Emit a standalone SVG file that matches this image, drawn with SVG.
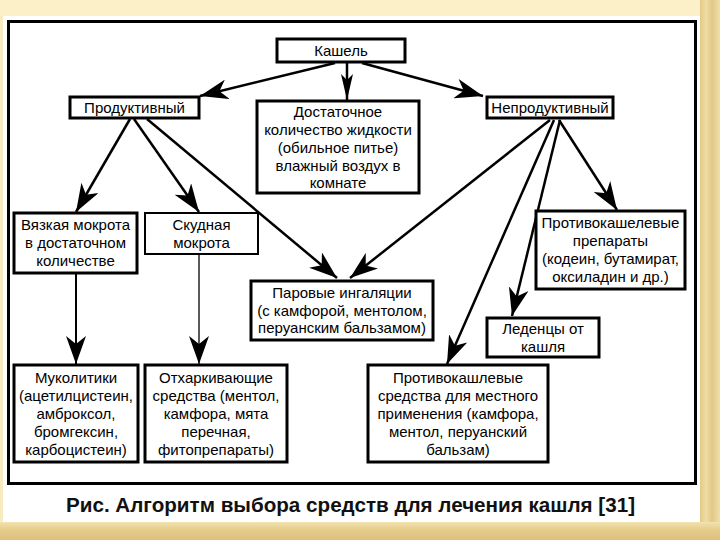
<svg xmlns="http://www.w3.org/2000/svg" width="720" height="540" viewBox="0 0 720 540">
<defs>
<linearGradient id="wood" x1="0" y1="0" x2="1" y2="0">
<stop offset="0" stop-color="#e3c987"/>
<stop offset="0.3" stop-color="#efdca5"/>
<stop offset="0.6" stop-color="#e2c888"/>
<stop offset="1" stop-color="#f0dfab"/>
</linearGradient>
<linearGradient id="woodb" x1="0" y1="0" x2="0" y2="1">
<stop offset="0" stop-color="#f3e3b0"/>
<stop offset="0.4" stop-color="#e6cd8e"/>
<stop offset="1" stop-color="#dcc07c"/>
</linearGradient>
<marker id="ah" viewBox="0 0 28 20" refX="28" refY="10" markerWidth="28" markerHeight="20" markerUnits="userSpaceOnUse" orient="auto">
<path d="M0,0 L28,10 L0,20 L8,10 Z" fill="#000"/>
</marker>
<marker id="ahn" viewBox="0 0 26 12" refX="26" refY="6" markerWidth="26" markerHeight="12" markerUnits="userSpaceOnUse" orient="auto">
<path d="M0,0 L26,6 L0,12 L6,6 Z" fill="#000"/>
</marker>
</defs>
<style>
.box{fill:#fff;stroke:#000;stroke-width:3}
.thin{stroke-width:2}
.t{font-family:"Liberation Sans",Arial,sans-serif;font-size:15px;fill:#000;text-anchor:middle}
.c{stroke:#000;stroke-width:2.5;fill:none;marker-end:url(#ah)}
.cap{font-family:"Liberation Sans",Arial,sans-serif;font-size:21px;font-weight:bold;fill:#111;text-anchor:middle}
</style>
<rect x="0" y="0" width="720" height="540" fill="#f8ebc0"/>
<rect x="0" y="0" width="720" height="16" fill="#fcf0c9"/>
<rect x="700" y="0" width="20" height="540" fill="url(#wood)"/>
<rect x="0" y="522" width="720" height="18" fill="url(#woodb)"/>
<rect x="3" y="16" width="697" height="506" fill="#fff"/>
<rect x="8.5" y="21.5" width="687" height="462" fill="none" stroke="#000" stroke-width="3"/>

<g id="connectors">
<line class="c" x1="335" y1="63" x2="200" y2="96"/>
<line class="c" x1="347" y1="63" x2="347" y2="100" style="marker-end:url(#ahn)"/>
<line class="c" x1="362" y1="63" x2="483" y2="96"/>
<line class="c" x1="130" y1="119" x2="76" y2="212"/>
<line class="c" x1="134" y1="119" x2="199" y2="212"/>
<line class="c" x1="147" y1="119" x2="337" y2="278"/>
<line class="c" x1="550" y1="120" x2="350" y2="278"/>
<line class="c" x1="554" y1="120" x2="447" y2="364"/>
<line class="c" x1="560" y1="120" x2="512" y2="316"/>
<line class="c" x1="559" y1="120" x2="617" y2="210"/>
<line class="c" x1="76" y1="274" x2="76" y2="364" style="stroke-width:2"/>
<line class="c" x1="199" y1="255" x2="199" y2="364" style="stroke-width:1.3"/>
</g>

<g id="n-kashel">
<rect class="box" x="277" y="39" width="128" height="23"/>
<text class="t" x="341" y="56">Кашель</text>
</g>
<g id="n-prod">
<rect class="box" x="70" y="97" width="129" height="21"/>
<text class="t" x="134.5" y="113">Продуктивный</text>
</g>
<g id="n-dost">
<rect class="box" x="257" y="101" width="162" height="92"/>
<text class="t" x="338" y="117">Достаточное</text>
<text class="t" x="338" y="135">количество жидкости</text>
<text class="t" x="338" y="153">(обильное питье)</text>
<text class="t" x="338" y="171">влажный воздух в</text>
<text class="t" x="338" y="188">комнате</text>
</g>
<g id="n-neprod">
<rect class="box" x="487" y="97" width="126" height="21"/>
<text class="t" x="550" y="113">Непродуктивный</text>
</g>
<g id="n-vyaz">
<rect class="box" x="14" y="213" width="123" height="60"/>
<text class="t" x="75.5" y="230">Вязкая мокрота</text>
<text class="t" x="75.5" y="248">в достаточном</text>
<text class="t" x="75.5" y="266">количестве</text>
</g>
<g id="n-skud">
<rect class="box thin" x="145" y="213" width="113" height="41"/>
<text class="t" x="201.5" y="230">Скудная</text>
<text class="t" x="201.5" y="248">мокрота</text>
</g>
<g id="n-protprep">
<rect class="box" x="536" y="211" width="149" height="78"/>
<text class="t" x="610.5" y="228">Противокашелевые</text>
<text class="t" x="610.5" y="246">препараты</text>
<text class="t" x="610.5" y="264">(кодеин, бутамират,</text>
<text class="t" x="610.5" y="282">оксиладин и др.)</text>
</g>
<g id="n-par">
<rect class="box" x="251" y="281" width="182" height="59"/>
<text class="t" x="342" y="298">Паровые ингаляции</text>
<text class="t" x="342" y="315.5">(с камфорой, ментолом,</text>
<text class="t" x="342" y="333">перуанским бальзамом)</text>
</g>
<g id="n-leden">
<rect class="box" x="487" y="318" width="112" height="39"/>
<text class="t" x="543" y="334">Леденцы от</text>
<text class="t" x="543" y="352">кашля</text>
</g>
<g id="n-muko">
<rect class="box" x="14" y="365" width="124" height="97"/>
<text class="t" x="76" y="383">Муколитики</text>
<text class="t" x="76" y="401">(ацетилцистеин,</text>
<text class="t" x="76" y="419">амброксол,</text>
<text class="t" x="76" y="437">бромгексин,</text>
<text class="t" x="76" y="455">карбоцистеин)</text>
</g>
<g id="n-otkh">
<rect class="box" x="145" y="365" width="142" height="97"/>
<text class="t" x="216" y="383">Отхаркивающие</text>
<text class="t" x="216" y="401">средства (ментол,</text>
<text class="t" x="216" y="419">камфора, мята</text>
<text class="t" x="216" y="437">перечная,</text>
<text class="t" x="216" y="455">фитопрепараты)</text>
</g>
<g id="n-mest">
<rect class="box" x="368" y="365" width="180" height="97"/>
<text class="t" x="458" y="383">Противокашлевые</text>
<text class="t" x="458" y="401">средства для местного</text>
<text class="t" x="458" y="419">применения (камфора,</text>
<text class="t" x="458" y="437">ментол, перуанский</text>
<text class="t" x="458" y="455">бальзам)</text>
</g>
<text class="cap" x="350.5" y="512" textLength="569" lengthAdjust="spacingAndGlyphs">Рис. Алгоритм выбора средств для лечения кашля [31]</text>
</svg>
